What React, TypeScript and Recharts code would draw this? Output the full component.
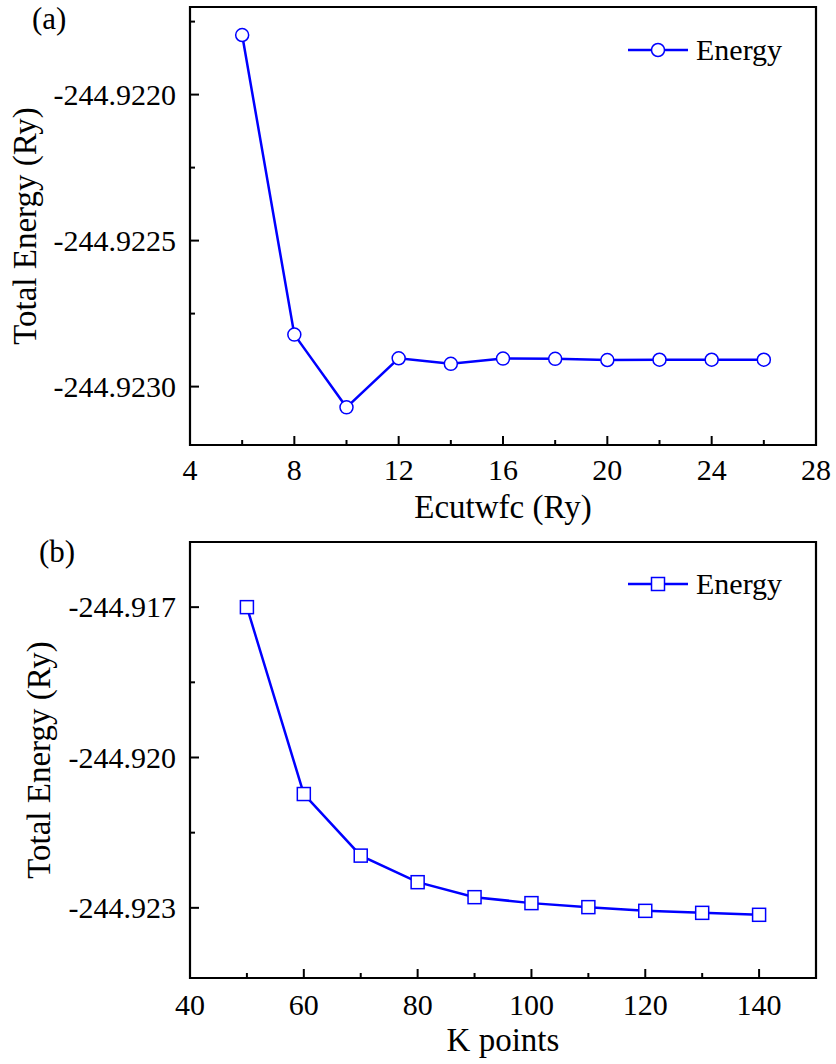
import React from 'react';
import { LineChart, Line, XAxis, YAxis, ReferenceArea, Legend } from 'recharts';

const FONT = "'Liberation Serif', 'Times New Roman', serif";
const BLUE = '#0000FF';

// Panel (a): Ecutwfc convergence
const ecutwfc = [6, 8, 10, 12, 14, 16, 18, 20, 22, 24, 26];
const ecutEnergy = [
  -244.921796, -244.922822, -244.923071, -244.922903, -244.922922, -244.922904,
  -244.922905, -244.922909, -244.922908, -244.922908, -244.922908,
];
const ecutXMajor = [4, 8, 12, 16, 20, 24, 28];
const ecutXMinor = [6, 10, 14, 18, 22, 26];
const ecutYMajor = [-244.922, -244.9225, -244.923];
const ecutYMinor = [-244.92175, -244.92225, -244.92275];
const ecutXDomain = [4, 28];
const ecutYDomain = [-244.9232, -244.9217];

// Panel (b): K points convergence
const kPoints = [50, 60, 70, 80, 90, 100, 110, 120, 130, 140];
const kEnergy = [
  -244.917, -244.920729, -244.921958, -244.922488, -244.922787, -244.922906,
  -244.922986, -244.92306, -244.9231, -244.923139,
];
const kXMajor = [40, 60, 80, 100, 120, 140];
const kXMinor = [50, 70, 90, 110, 130];
const kYMajor = [-244.917, -244.92, -244.923];
const kYMinor = [-244.9185, -244.9215];
const kXDomain = [40, 150];
const kYDomain = [-244.9244, -244.9157];

const dataA = ecutwfc.map((x, i) => ({ x, e: ecutEnergy[i] }));
const dataB = kPoints.map((x, i) => ({ x, e: kEnergy[i] }));

const isIn = (v: number, list: number[]) => list.some((m) => Math.abs(m - v) < 1e-9);
const sorted = (a: number[], b: number[]) => [...a, ...b].sort((p, q) => p - q);

const makeXTick = (majors: number[], fmt: (v: number) => string, labelDy: number) => (props: any) => {
  const { x, y, payload } = props;
  const major = isIn(payload.value, majors);
  return (
    <g>
      <line x1={x} y1={y} x2={x} y2={y - (major ? 9 : 5)} stroke="#000" strokeWidth={2} />
      {major && (
        <text x={x} y={y + labelDy} textAnchor="middle" fontFamily={FONT} fontSize={30} fill="#000">
          {fmt(payload.value)}
        </text>
      )}
    </g>
  );
};

const makeYTick = (majors: number[], fmt: (v: number) => string) => (props: any) => {
  const { x, y, payload } = props;
  const major = isIn(payload.value, majors);
  return (
    <g>
      <line x1={x} y1={y} x2={x + (major ? 9 : 5)} y2={y} stroke="#000" strokeWidth={2} />
      {major && (
        <text x={x - 14} y={y} dy="0.34em" textAnchor="end" fontFamily={FONT} fontSize={30} fill="#000">
          {fmt(payload.value)}
        </text>
      )}
    </g>
  );
};

const xTitle = (text: string, dy: number) => (props: any) => {
  const vb = props.viewBox || { x: 0, y: 0, width: 0, height: 0 };
  return (
    <text x={vb.x + vb.width / 2} y={vb.y + dy} textAnchor="middle" fontFamily={FONT} fontSize={33} fill="#000">
      {text}
    </text>
  );
};

const yTitle = (text: string, bx: number) => (props: any) => {
  const vb = props.viewBox || { x: 0, y: 0, width: 0, height: 0 };
  const cy = vb.y + vb.height / 2;
  return (
    <text x={bx} y={cy} transform={`rotate(-90, ${bx}, ${cy})`} textAnchor="middle" fontFamily={FONT} fontSize={33} fill="#000">
      {text}
    </text>
  );
};

const legendContent = (shape: 'circle' | 'square') => (props: any) => {
  const items = props.payload || [];
  return (
    <div>
      {items.map((it: any, i: number) => (
        <div key={i} style={{ display: 'flex', alignItems: 'center' }}>
          <svg width={62} height={20} style={{ display: 'block' }}>
            <line x1={0} y1={10} x2={60} y2={10} stroke={BLUE} strokeWidth={2.5} />
            {shape === 'circle' ? (
              <circle cx={30} cy={10} r={6.5} fill="#fff" stroke={BLUE} strokeWidth={1.5} />
            ) : (
              <rect x={23.5} y={3.5} width={13} height={13} fill="#fff" stroke={BLUE} strokeWidth={1.5} />
            )}
          </svg>
          <span style={{ fontFamily: FONT, fontSize: 30, color: '#000', marginLeft: 6, lineHeight: '34px' }}>{it.value}</span>
        </div>
      ))}
    </div>
  );
};

const SquareDot = (props: any) => {
  const { cx, cy, index } = props;
  if (cx == null || cy == null) return null;
  return <rect key={`sq-${index}`} x={cx - 6.5} y={cy - 6.5} width={13} height={13} fill="#fff" stroke={BLUE} strokeWidth={1.5} />;
};

export default function App() {
  return (
    <div style={{ position: 'absolute', left: 0, top: 0, width: 836, height: 1064, background: '#fff' }}>
      <div style={{ position: 'absolute', left: 0, top: 0 }}>
        <LineChart width={836} height={530} data={dataA} margin={{ top: 7, right: 20, bottom: 0, left: 0 }}>
          <XAxis
            dataKey="x"
            type="number"
            domain={ecutXDomain}
            ticks={sorted(ecutXMajor, ecutXMinor)}
            tick={makeXTick(ecutXMajor, (v) => String(v), 35)}
            tickLine={false}
            axisLine={false}
            tickSize={0}
            tickMargin={0}
            interval={0}
            height={85}
            allowDataOverflow
            label={{ content: xTitle('Ecutwfc (Ry)', 73) }}
          />
          <YAxis
            type="number"
            domain={ecutYDomain}
            ticks={sorted(ecutYMajor, ecutYMinor)}
            tick={makeYTick(ecutYMajor, (v) => v.toFixed(4))}
            tickLine={false}
            axisLine={false}
            tickSize={0}
            tickMargin={0}
            interval={0}
            width={190}
            allowDataOverflow
            label={{ content: yTitle('Total Energy (Ry)', 36) }}
          />
          <ReferenceArea
            x1={ecutXDomain[0]}
            x2={ecutXDomain[1]}
            y1={ecutYDomain[0]}
            y2={ecutYDomain[1]}
            fill="none"
            stroke="#000"
            strokeWidth={2.2}
            ifOverflow="visible"
          />
          <Legend
            layout="horizontal"
            verticalAlign="middle"
            align="center"
            content={legendContent('circle')}
            wrapperStyle={{ left: 628, top: 33, width: 200, height: 34 }}
          />
          <Line
            dataKey="e"
            name="Energy"
            stroke={BLUE}
            strokeWidth={2.5}
            dot={{ r: 6.5, fill: '#fff', stroke: BLUE, strokeWidth: 1.5 }}
            isAnimationActive={false}
          />
          <text x={32} y={29} fontFamily={FONT} fontSize={31} fill="#000">(a)</text>
        </LineChart>
      </div>
      <div style={{ position: 'absolute', left: 0, top: 530 }}>
        <LineChart width={836} height={534} data={dataB} margin={{ top: 12, right: 20, bottom: 0, left: 0 }}>
          <XAxis
            dataKey="x"
            type="number"
            domain={kXDomain}
            ticks={sorted(kXMajor, kXMinor)}
            tick={makeXTick(kXMajor, (v) => String(v), 37)}
            tickLine={false}
            axisLine={false}
            tickSize={0}
            tickMargin={0}
            interval={0}
            height={86}
            allowDataOverflow
            label={{ content: xTitle('K points', 73) }}
          />
          <YAxis
            type="number"
            domain={kYDomain}
            ticks={sorted(kYMajor, kYMinor)}
            tick={makeYTick(kYMajor, (v) => v.toFixed(3))}
            tickLine={false}
            axisLine={false}
            tickSize={0}
            tickMargin={0}
            interval={0}
            width={190}
            allowDataOverflow
            label={{ content: yTitle('Total Energy (Ry)', 50) }}
          />
          <ReferenceArea
            x1={kXDomain[0]}
            x2={kXDomain[1]}
            y1={kYDomain[0]}
            y2={kYDomain[1]}
            fill="none"
            stroke="#000"
            strokeWidth={2.2}
            ifOverflow="visible"
          />
          <Legend
            layout="horizontal"
            verticalAlign="middle"
            align="center"
            content={legendContent('square')}
            wrapperStyle={{ left: 628, top: 37, width: 200, height: 34 }}
          />
          <Line
            dataKey="e"
            name="Energy"
            stroke={BLUE}
            strokeWidth={2.5}
            dot={SquareDot}
            isAnimationActive={false}
          />
          <text x={39} y={32} fontFamily={FONT} fontSize={31} fill="#000">(b)</text>
        </LineChart>
      </div>
    </div>
  );
}
